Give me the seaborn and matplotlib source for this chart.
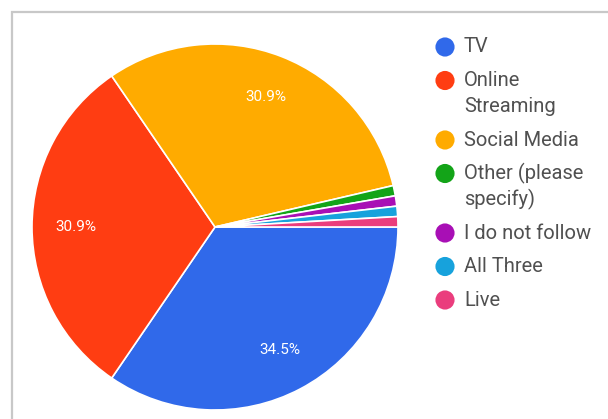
import matplotlib
matplotlib.use("Agg")
import matplotlib.pyplot as plt
import seaborn as sns
from matplotlib.patches import Rectangle

categories = ["TV", "Online\nStreaming", "Social Media", "Other (please\nspecify)",
              "I do not follow", "All Three", "Live"]
values = [38, 34, 34, 1, 1, 1, 1]
colors = ["#3069ea", "#ff3d12", "#ffab00", "#13a418", "#a80fb5", "#17a2dc", "#ea3d7d"]

sns.set_theme(style="white")
plt.rcParams["font.family"] = ["Roboto", "DejaVu Sans"]

fig = plt.figure(figsize=(6.08, 4.19), dpi=100)
fig.patch.set_facecolor("white")

# frame
fig.add_artist(Rectangle((12/608, -0.05), 1.1, 1 - 12/419 + 0.05, transform=fig.transFigure,
                         fill=False, edgecolor="#c8c8c8", linewidth=1.6))

ax = fig.add_axes([32/608, 9/419, 366/608, 366/419])
wedges, texts, autotexts = ax.pie(
    values, colors=sns.color_palette(colors), startangle=0, counterclock=False,
    autopct=lambda p: f"{p:.1f}%" if p > 5 else "", pctdistance=0.76,
    wedgeprops=dict(edgecolor="white", linewidth=1.2),
    textprops=dict(color="white", fontsize=11))
ax.set_xlim(-1, 1)
ax.set_ylim(-1, 1)
ax.set_aspect("auto")
ax.axis("off")

# legend
lax = fig.add_axes([0, 0, 1, 1])
lax.set_xlim(0, 608)
lax.set_ylim(419, 0)
lax.axis("off")
y = 47
for cat, col in zip(categories, colors):
    lax.scatter([445], [y], s=190, color=col, edgecolors="none")
    lines = cat.split("\n")
    for i, ln in enumerate(lines):
        lax.text(464, y + i * 26, ln, fontsize=14.5, color="#505050", va="center", ha="left")
    y += 26 * (len(lines) - 1) + 33.5

fig.savefig("out.png", dpi=100, facecolor="white")
